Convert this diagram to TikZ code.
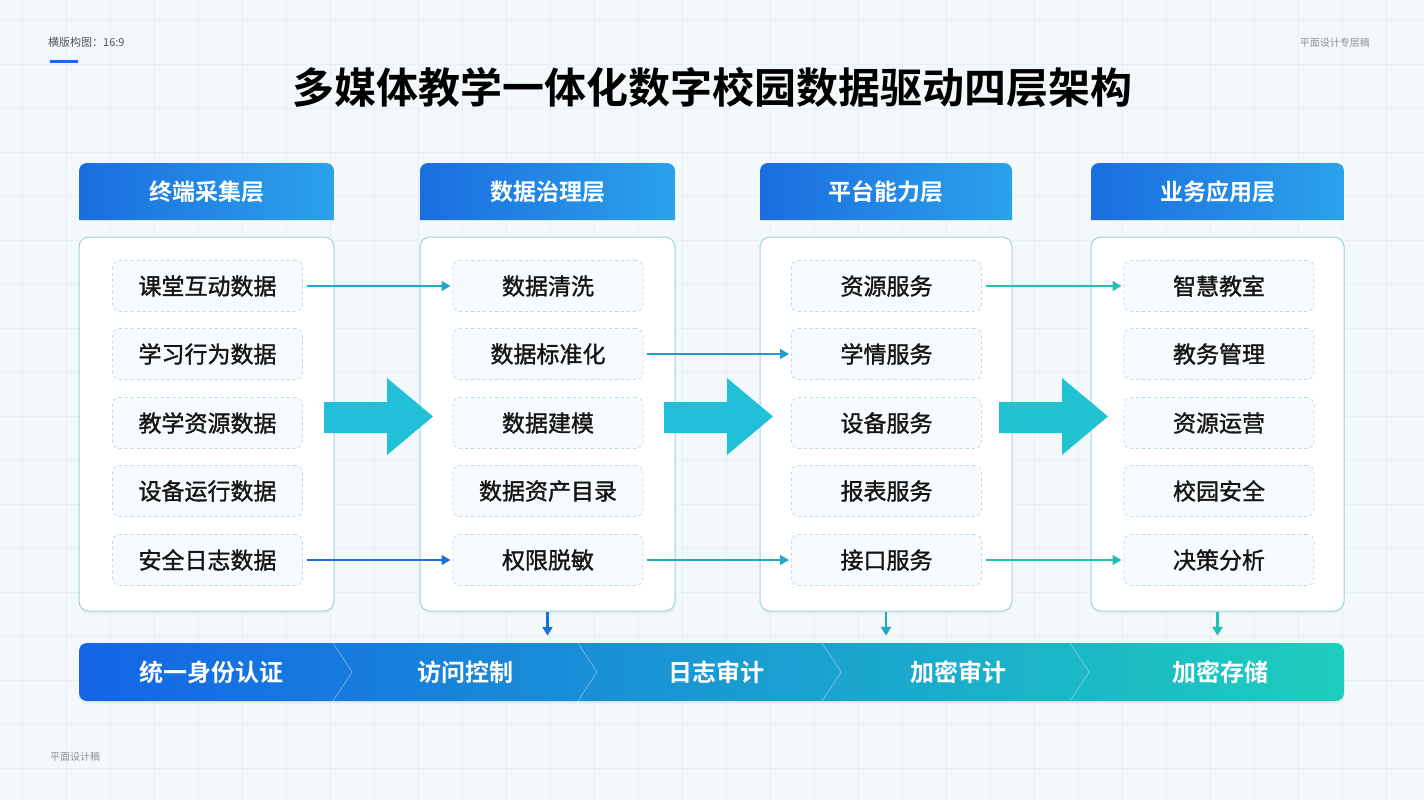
\documentclass[tikz,border=0pt]{standalone}
\usepackage{fontspec}
\setmainfont{Noto Sans CJK SC}[BoldFont={Noto Sans CJK SC Bold}]
\newfontfamily\medfont{Noto Sans CJK SC}[FakeBold=1.3]
\usetikzlibrary{arrows.meta,shadows,backgrounds}
\definecolor{bgc}{HTML}{F3F8FB}
\definecolor{gridc}{HTML}{E8EFF5}
\definecolor{hdl}{HTML}{1A6DE0}
\definecolor{hdr}{HTML}{2BA2EA}
\definecolor{boxline}{HTML}{A2CFE4}
\definecolor{itemline}{HTML}{BFD8E4}
\definecolor{itemfill}{HTML}{F7FBFD}
\definecolor{txt}{HTML}{151515}
\definecolor{bigarrow}{HTML}{22BFD8}
\definecolor{bigarrowb}{HTML}{21C3D0}
\definecolor{barl}{HTML}{1565E6}
\definecolor{barm}{HTML}{1EA2D8}
\definecolor{barr}{HTML}{1DCEBE}
\definecolor{ablue}{HTML}{1C6FD9}
\definecolor{acyan}{HTML}{1FA8C8}
\definecolor{acyanb}{HTML}{1E9FCB}
\definecolor{ateal}{HTML}{22BFB5}
\definecolor{graytxt}{HTML}{555555}
\definecolor{lgraytxt}{HTML}{8A8F94}
\tikzset{
  colbox/.style={draw=boxline, line width=1pt, fill=white, rounded corners=10pt,
    minimum height=374pt, inner sep=0pt,
    drop shadow={opacity=0.06, shadow xshift=0pt, shadow yshift=-3pt}},
  itembox/.style={draw=itemline, dashed, line width=0.7pt, fill=itemfill, rounded corners=7pt,
    minimum width=190pt, minimum height=51pt, inner sep=0pt, text=txt,
    font=\medfont\fontsize{23}{27}\selectfont},
  hdtext/.style={text=white, font=\bfseries\fontsize{23}{27}\selectfont, inner sep=0pt},
  bartext/.style={text=white, font=\bfseries\fontsize{24}{28}\selectfont, inner sep=0pt},
  thinarrow/.style={line width=2.6pt, -{Triangle[length=9pt,width=9.5pt]}, shorten <=4pt, shorten >=2pt},
  downarrow/.style={line width=2.6pt, -{Triangle[length=9pt,width=10pt]}, shorten >=7pt, shorten <=0pt},
  chev/.style={draw=white, draw opacity=0.35, line width=0.8pt},
}
\begin{document}
\begin{tikzpicture}[x=1pt,y=-1pt]
\useasboundingbox (0,0) rectangle (1424,800);
\fill[bgc] (0,0) rectangle (1424,800);
\foreach \gx in {22,66,...,1424} \draw[gridc, line width=0.5pt] (\gx,0) -- (\gx,800);
\foreach \gy in {20,64,...,800} \draw[gridc, line width=0.5pt] (0,\gy) -- (1424,\gy);

% corner texts
\node[anchor=west, text=graytxt, font=\fontsize{11}{13}\selectfont, inner sep=0pt] (tl) at (48,42) {横版构图：16:9};
\fill[hdl] (50,60.5) rectangle (78,63.5);
\node[anchor=east, text=lgraytxt, font=\fontsize{10}{12}\selectfont, inner sep=0pt] (tr) at (1370,43) {平面设计专层稿};
\node[anchor=west, text=lgraytxt, font=\fontsize{10}{12}\selectfont, inner sep=0pt] (bl) at (50,757) {平面设计稿};

% title
\node[font=\bfseries\fontsize{42}{48}\selectfont, text=black, inner sep=0pt] (title) at (712,88) {多媒体教学一体化数字校园数据驱动四层架构};

% headers
\foreach \n/\xa/\xb/\lab in {h1/79/334/终端采集层, h2/420/675/数据治理层, h3/760/1012/平台能力层, h4/1091/1344/业务应用层}{
  \shade[left color=hdl, right color=hdr] (\xa,220) [rounded corners=8pt] -- (\xa,163) -- (\xb,163) [sharp corners] -- (\xb,220) -- cycle;
  \node[hdtext] (\n) at ({(\xa+\xb)/2},191.5) {\lab};
}

% column boxes
\node[colbox, minimum width=255pt] (c1) at (206.5,424) {};
\node[colbox, minimum width=255pt] (c2) at (547.5,424) {};
\node[colbox, minimum width=252pt] (c3) at (886,424) {};
\node[colbox, minimum width=253pt] (c4) at (1217.5,424) {};

% items
\node[itembox] (a1) at (207.5,286) {课堂互动数据};
\node[itembox] (a2) at (207.5,354) {学习行为数据};
\node[itembox] (a3) at (207.5,423) {教学资源数据};
\node[itembox] (a4) at (207.5,491) {设备运行数据};
\node[itembox] (a5) at (207.5,560) {安全日志数据};

\node[itembox] (b1) at (548,286) {数据清洗};
\node[itembox] (b2) at (548,354) {数据标准化};
\node[itembox] (b3) at (548,423) {数据建模};
\node[itembox] (b4) at (548,491) {数据资产目录};
\node[itembox] (b5) at (548,560) {权限脱敏};

\node[itembox] (d1) at (886.5,286) {资源服务};
\node[itembox] (d2) at (886.5,354) {学情服务};
\node[itembox] (d3) at (886.5,423) {设备服务};
\node[itembox] (d4) at (886.5,491) {报表服务};
\node[itembox] (d5) at (886.5,560) {接口服务};

\node[itembox] (e1) at (1219,286) {智慧教室};
\node[itembox] (e2) at (1219,354) {教务管理};
\node[itembox] (e3) at (1219,423) {资源运营};
\node[itembox] (e4) at (1219,491) {校园安全};
\node[itembox] (e5) at (1219,560) {决策分析};

% thin arrows
\draw[thinarrow, acyan] (a1.east) -- (b1.west);
\draw[thinarrow, ablue] (a5.east) -- (b5.west);
\draw[thinarrow, acyanb] (b2.east) -- (d2.west);
\draw[thinarrow, acyan] (b5.east) -- (d5.west);
\draw[thinarrow, ateal] (d1.east) -- (e1.west);
\draw[thinarrow, ateal] (d5.east) -- (e5.west);

% big arrows
\foreach \s/\c in {0/bigarrow, 340/bigarrow, 675/bigarrowb}{
  \fill[\c] (324+\s,402) -- (387+\s,402) -- (387+\s,378) -- (433+\s,416.5) -- (387+\s,455) -- (387+\s,433) -- (324+\s,433) -- cycle;
}

% bottom bar
\node[minimum width=1265pt, minimum height=58pt, rounded corners=8pt, inner sep=0pt,
  left color=barl, middle color=barm, right color=barr,
  drop shadow={opacity=0.08, shadow xshift=0pt, shadow yshift=-3pt}] (bar) at (711.5,672) {};
\foreach \cx in {333,578,822,1070}{
  \draw[chev] (\cx,643) -- (\cx+19,672) -- (\cx,701);
}
\node[bartext] (s1) at (211,672) {统一身份认证};
\node[bartext] (s2) at (465,672) {访问控制};
\node[bartext] (s3) at (716,672) {日志审计};
\node[bartext] (s4) at (958,672) {加密审计};
\node[bartext] (s5) at (1220,672) {加密存储};

% down arrows
\draw[downarrow, ablue] (c2.south) -- (c2.south |- bar.north);
\draw[downarrow, acyan] (c3.south) -- (c3.south |- bar.north);
\draw[downarrow, ateal] (c4.south) -- (c4.south |- bar.north);
\end{tikzpicture}
\end{document}
